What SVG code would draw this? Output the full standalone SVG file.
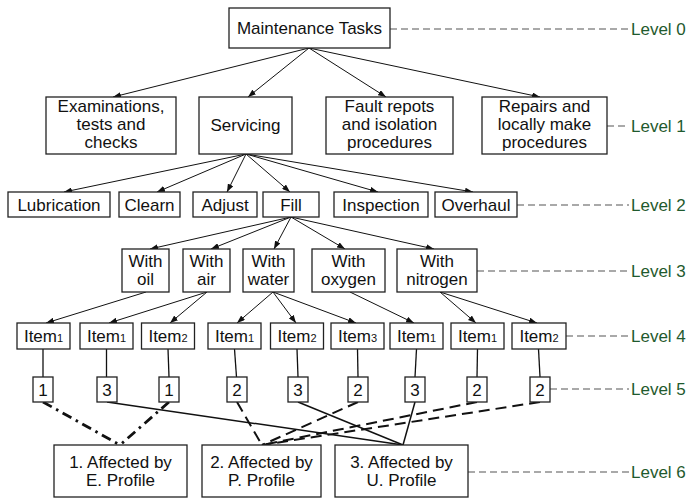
<svg xmlns="http://www.w3.org/2000/svg" width="690" height="498" viewBox="0 0 690 498">
<style>
rect.b{fill:#fff;stroke:#222;stroke-width:1.3}
text{font-family:"Liberation Sans",Arial,sans-serif;font-size:17px;fill:#111;text-anchor:middle}
text.lv{fill:#1f5a2e;text-anchor:start}
.lvl line{stroke:#555;stroke-width:1.2;stroke-dasharray:7 4}
.arr line{stroke:#111;stroke-width:1;marker-end:url(#ah)}
.v line{stroke:#111;stroke-width:1.3}
.sol{stroke:#111;stroke-width:1.5}
.dsh{stroke:#111;stroke-width:2;stroke-dasharray:11 6}
.dd{stroke:#111;stroke-width:2.8;stroke-dasharray:10 5 2.5 5}
tspan.s{font-size:11px}
</style>
<defs>
<marker id="ah" markerWidth="8" markerHeight="6" refX="8" refY="3" orient="auto" markerUnits="userSpaceOnUse">
<path d="M0,0 L8,3 L0,6 z" fill="#111"/>
</marker>
</defs>
<rect width="690" height="498" fill="#fff"/>

<g id="connectors">
<g class="arr">
<line x1="309" y1="48" x2="113" y2="97"/>
<line x1="309" y1="48" x2="248" y2="97"/>
<line x1="309" y1="48" x2="386" y2="97"/>
<line x1="309" y1="48" x2="540" y2="97"/>
<line x1="246" y1="154" x2="64" y2="192"/>
<line x1="246" y1="154" x2="157" y2="192"/>
<line x1="246" y1="154" x2="227" y2="192"/>
<line x1="246" y1="154" x2="290" y2="192"/>
<line x1="246" y1="154" x2="378" y2="192"/>
<line x1="246" y1="154" x2="473" y2="192"/>
<line x1="291" y1="217" x2="150" y2="249"/>
<line x1="291" y1="217" x2="211" y2="249"/>
<line x1="291" y1="217" x2="274" y2="249"/>
<line x1="291" y1="217" x2="345" y2="249"/>
<line x1="291" y1="217" x2="434" y2="249"/>
<line x1="146" y1="292" x2="46" y2="323"/>
<line x1="207" y1="292" x2="109" y2="323"/>
<line x1="207" y1="292" x2="170" y2="323"/>
<line x1="273" y1="292" x2="237" y2="323"/>
<line x1="273" y1="292" x2="296" y2="323"/>
<line x1="273" y1="292" x2="356" y2="323"/>
<line x1="350" y1="292" x2="414" y2="323"/>
<line x1="440" y1="292" x2="476" y2="323"/>
<line x1="440" y1="292" x2="537" y2="323"/>
</g>
<g class="v">
<line x1="43" y1="349" x2="43" y2="377"/>
<line x1="106.5" y1="349" x2="106.5" y2="377"/>
<line x1="168" y1="349" x2="169" y2="377"/>
<line x1="234.5" y1="349" x2="236.5" y2="377"/>
<line x1="297" y1="349" x2="298" y2="377"/>
<line x1="357.5" y1="349" x2="358" y2="377"/>
<line x1="416.5" y1="349" x2="415" y2="377"/>
<line x1="477.5" y1="349" x2="477" y2="377"/>
<line x1="538.5" y1="349" x2="540" y2="377"/>
</g>
<line class="dd" x1="43" y1="402" x2="120" y2="445"/>
<line class="dd" x1="169" y1="402" x2="120" y2="445"/>
<line class="sol" x1="107" y1="402" x2="403" y2="445"/>
<line class="sol" x1="298" y1="402" x2="403" y2="445"/>
<line class="sol" x1="415" y1="402" x2="403" y2="445"/>
<line class="dsh" x1="237" y1="402" x2="262" y2="445"/>
<line class="dsh" x1="358" y1="402" x2="262" y2="445"/>
<line class="dsh" x1="477" y1="402" x2="262" y2="445"/>
<line class="dsh" x1="540" y1="402" x2="262" y2="445"/>
</g>

<g class="lvl">
<line x1="390" y1="29" x2="629" y2="29"/>
<line x1="607" y1="126" x2="629" y2="126"/>
<line x1="517" y1="205" x2="629" y2="205"/>
<line x1="477" y1="271" x2="629" y2="271"/>
<line x1="566" y1="336" x2="629" y2="336"/>
<line x1="550" y1="389" x2="629" y2="389"/>
<line x1="468" y1="472" x2="629" y2="472"/>
</g>
<g id="levels">
<text class="lv" x="631" y="35">Level 0</text>
<text class="lv" x="631" y="132">Level 1</text>
<text class="lv" x="631" y="211">Level 2</text>
<text class="lv" x="631" y="277">Level 3</text>
<text class="lv" x="631" y="342">Level 4</text>
<text class="lv" x="631" y="395">Level 5</text>
<text class="lv" x="631" y="478">Level 6</text>
</g>

<g id="n-maint"><rect class="b" x="229" y="8" width="161" height="40"/><text x="309.5" y="34">Maintenance Tasks</text></g>

<g id="n-exam"><rect class="b" x="46" y="97" width="130" height="57"/><text x="111" y="112">Examinations,</text><text x="111" y="130">tests and</text><text x="111" y="148">checks</text></g>
<g id="n-serv"><rect class="b" x="199" y="97" width="93" height="57"/><text x="245.5" y="131">Servicing</text></g>
<g id="n-fault"><rect class="b" x="326" y="97" width="127" height="57"/><text x="389.5" y="112">Fault repots</text><text x="389.5" y="130">and isolation</text><text x="389.5" y="148">procedures</text></g>
<g id="n-repair"><rect class="b" x="482" y="97" width="125" height="57"/><text x="544.5" y="112">Repairs and</text><text x="544.5" y="130">locally make</text><text x="544.5" y="148">procedures</text></g>

<g id="n-lub"><rect class="b" x="8" y="192" width="102" height="25"/><text x="59" y="210.5">Lubrication</text></g>
<g id="n-clearn"><rect class="b" x="119" y="192" width="61" height="25"/><text x="149.5" y="210.5">Clearn</text></g>
<g id="n-adjust"><rect class="b" x="193" y="192" width="64" height="25"/><text x="225" y="210.5">Adjust</text></g>
<g id="n-fill"><rect class="b" x="263" y="192" width="56" height="25"/><text x="291" y="210.5">Fill</text></g>
<g id="n-insp"><rect class="b" x="334" y="192" width="94" height="25"/><text x="381" y="210.5">Inspection</text></g>
<g id="n-over"><rect class="b" x="435" y="192" width="82" height="25"/><text x="476" y="210.5">Overhaul</text></g>

<g id="n-oil"><rect class="b" x="122" y="249" width="47" height="43"/><text x="145.5" y="266.5">With</text><text x="145.5" y="284.5">oil</text></g>
<g id="n-air"><rect class="b" x="183" y="249" width="47" height="43"/><text x="206.5" y="266.5">With</text><text x="206.5" y="284.5">air</text></g>
<g id="n-water"><rect class="b" x="243" y="249" width="51" height="43"/><text x="268.5" y="266.5">With</text><text x="268.5" y="284.5">water</text></g>
<g id="n-oxy"><rect class="b" x="312" y="249" width="73" height="43"/><text x="348.5" y="266.5">With</text><text x="348.5" y="284.5">oxygen</text></g>
<g id="n-nit"><rect class="b" x="397" y="249" width="80" height="43"/><text x="437" y="266.5">With</text><text x="437" y="284.5">nitrogen</text></g>

<g id="n-i1"><rect class="b" x="17" y="323" width="53" height="26"/><text x="43.5" y="342">Item<tspan class="s">1</tspan></text></g>
<g id="n-i2"><rect class="b" x="80" y="323" width="53" height="26"/><text x="106.5" y="342">Item<tspan class="s">1</tspan></text></g>
<g id="n-i3"><rect class="b" x="141.5" y="323" width="53" height="26"/><text x="168" y="342">Item<tspan class="s">2</tspan></text></g>
<g id="n-i4"><rect class="b" x="208" y="323" width="53" height="26"/><text x="234.5" y="342">Item<tspan class="s">1</tspan></text></g>
<g id="n-i5"><rect class="b" x="270.5" y="323" width="53" height="26"/><text x="297" y="342">Item<tspan class="s">2</tspan></text></g>
<g id="n-i6"><rect class="b" x="331" y="323" width="53" height="26"/><text x="357.5" y="342">Item<tspan class="s">3</tspan></text></g>
<g id="n-i7"><rect class="b" x="390" y="323" width="53" height="26"/><text x="416.5" y="342">Item<tspan class="s">1</tspan></text></g>
<g id="n-i8"><rect class="b" x="451" y="323" width="53" height="26"/><text x="477.5" y="342">Item<tspan class="s">1</tspan></text></g>
<g id="n-i9"><rect class="b" x="512" y="323" width="54" height="26"/><text x="539" y="342">Item<tspan class="s">2</tspan></text></g>

<g id="n-s1"><rect class="b" x="33" y="377" width="20" height="25"/><text x="43" y="395.5">1</text></g>
<g id="n-s2"><rect class="b" x="97" y="377" width="20" height="25"/><text x="107" y="395.5">3</text></g>
<g id="n-s3"><rect class="b" x="159" y="377" width="20" height="25"/><text x="169" y="395.5">1</text></g>
<g id="n-s4"><rect class="b" x="227" y="377" width="20" height="25"/><text x="237" y="395.5">2</text></g>
<g id="n-s5"><rect class="b" x="288" y="377" width="20" height="25"/><text x="298" y="395.5">3</text></g>
<g id="n-s6"><rect class="b" x="348" y="377" width="20" height="25"/><text x="358" y="395.5">2</text></g>
<g id="n-s7"><rect class="b" x="405" y="377" width="20" height="25"/><text x="415" y="395.5">3</text></g>
<g id="n-s8"><rect class="b" x="467" y="377" width="20" height="25"/><text x="477" y="395.5">2</text></g>
<g id="n-s9"><rect class="b" x="530" y="377" width="20" height="25"/><text x="540" y="395.5">2</text></g>

<g id="n-e"><rect class="b" x="54" y="445" width="133" height="52"/><text x="120.5" y="468">1. Affected by</text><text x="120.5" y="486">E. Profile</text></g>
<g id="n-p"><rect class="b" x="202" y="445" width="119" height="52"/><text x="261.5" y="468">2. Affected by</text><text x="261.5" y="486">P. Profile</text></g>
<g id="n-u"><rect class="b" x="335" y="445" width="133" height="52"/><text x="401.5" y="468">3. Affected by</text><text x="401.5" y="486">U. Profile</text></g>
</svg>
